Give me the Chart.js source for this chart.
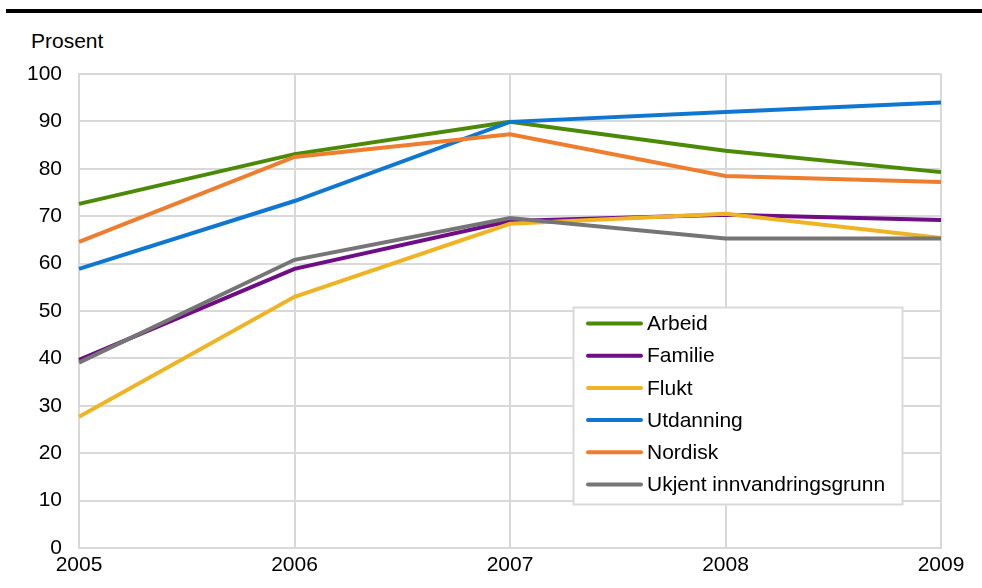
<!DOCTYPE html>
<html lang="no">
<head>
<meta charset="UTF-8">
<title>Prosent etter innvandringsgrunn</title>
<script src="https://cdn.jsdelivr.net/npm/chart.js"></script>
<style>
    body { margin: 0; background: #fff; font-family: "Liberation Sans", Arial, sans-serif; }
    #wrap { position: relative; width: 982px; height: 588px; overflow: hidden; }
    #rule { position: absolute; left: 6px; right: 0; top: 9px; height: 4px; background: #000; }
    #unit { position: absolute; left: 31px; top: 29px; font-size: 21px; color: #000; }
    #chart { position: absolute; left: 0; top: 0; }
</style>
</head>
<body>
<div id="wrap">
    <div id="rule"></div>
    <div id="unit">Prosent</div>
    <canvas id="chart" width="982" height="588"></canvas>
</div>

<script>
    // Data
    const years = ['2005', '2006', '2007', '2008', '2009'];
    const arbeid    = [72.6, 83.1, 89.9, 83.8, 79.3];
    const familie   = [39.7, 58.9, 69.0, 70.3, 69.2];
    const flukt     = [27.7, 53.0, 68.4, 70.5, 65.4];
    const utdanning = [58.9, 73.2, 89.9, 92.0, 94.0];
    const nordisk   = [64.6, 82.5, 87.3, 78.5, 77.2];
    const ukjent    = [39.1, 60.8, 69.6, 65.3, 65.3];

    const seriesNames = ['Arbeid', 'Familie', 'Flukt', 'Utdanning', 'Nordisk', 'Ukjent innvandringsgrunn'];
    const seriesData = [arbeid, familie, flukt, utdanning, nordisk, ukjent];
    const seriesColors = ['#4a8a06', '#6e0d86', '#efb424', '#0f77d2', '#ee7d2e', '#757575'];

    const FONT = { family: '"Liberation Sans", Arial, sans-serif', size: 21 };
    const GRID = '#d9d9d9';

    // Legend box drawn inside the plot area, like the original
    const boxLegend = {
        id: 'boxLegend',
        afterDraw(chart) {
            const ctx = chart.ctx;
            const x = 573.5, y = 307.5, w = 329, h = 197;
            ctx.save();
            ctx.fillStyle = '#fff';
            ctx.fillRect(x, y, w, h);
            ctx.strokeStyle = GRID;
            ctx.lineWidth = 2;
            ctx.strokeRect(x, y, w, h);
            ctx.font = FONT.size + 'px ' + FONT.family;
            ctx.textBaseline = 'middle';
            ctx.lineCap = 'round';
            chart.data.datasets.forEach((ds, i) => {
                const cy = 323.5 + i * 32.2;
                ctx.strokeStyle = ds.borderColor;
                ctx.lineWidth = 4;
                ctx.beginPath();
                ctx.moveTo(588, cy);
                ctx.lineTo(641, cy);
                ctx.stroke();
                ctx.fillStyle = '#000';
                ctx.fillText(ds.label, 647, cy + 1);
            });
            ctx.restore();
        }
    };

    new Chart(document.getElementById('chart'), {
        type: 'line',
        data: {
            labels: years,
            datasets: seriesData.map((d, i) => ({
                label: seriesNames[i],
                data: d,
                borderColor: seriesColors[i],
                backgroundColor: seriesColors[i],
                borderWidth: 4,
                pointRadius: 0,
                tension: 0,
                fill: false,
                order: seriesData.length - 1 - i
            }))
        },
        options: {
            responsive: false,
            animation: false,
            layout: { padding: { top: 74, right: 41, left: 0, bottom: 0 } },
            plugins: {
                legend: { display: false },
                tooltip: { enabled: false }
            },
            scales: {
                x: {
                    type: 'category',
                    offset: false,
                    grid: { color: GRID, lineWidth: 2, drawTicks: false, offset: false },
                    border: { color: GRID, width: 2 },
                    ticks: { color: '#000', font: FONT, padding: 5, maxRotation: 0 },
                    afterFit(scale) { scale.height = 40; }
                },
                y: {
                    min: 0,
                    max: 100,
                    grid: { color: GRID, lineWidth: 2, drawTicks: false },
                    border: { color: GRID, width: 2 },
                    ticks: { stepSize: 10, color: '#000', font: FONT, padding: 17 },
                    afterFit(scale) { scale.width = 79; }
                }
            }
        },
        plugins: [boxLegend]
    });
</script>
</body>
</html>
